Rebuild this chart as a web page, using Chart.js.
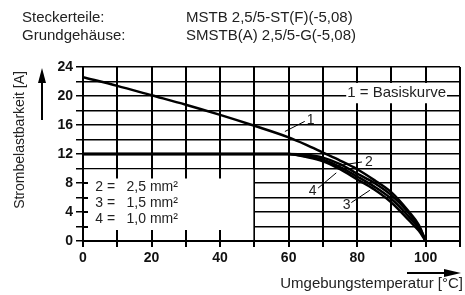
<!DOCTYPE html>
<html>
<head>
<meta charset="utf-8">
<script src="https://cdn.jsdelivr.net/npm/chart.js@4.4.1/dist/chart.umd.min.js"></script>
<style>
  body { margin: 0; background: #fff; }
</style>
</head>
<body>
<canvas id="chart" width="465" height="295"></canvas>
<script>
// temperature steps (°C)
const temps = [0, 10, 20, 30, 40, 50, 60, 65, 70, 75, 80, 85, 90, 95, 98, 100];
// 1 = Basiskurve
const curve1 = [22.6, 21.4, 20.1, 18.8, 17.4, 15.9, 14.3, 13.3, 12.2, 11.1, 9.9, 8.4, 6.7, 4.1, 2.2, 0];
// 2 = 2,5 mm², 3 = 1,5 mm², 4 = 1,0 mm²
const curve2 = [12, 12, 12, 12, 12, 12, 12, 11.9, 11.5, 10.6, 9.3, 8.0, 6.3, 3.9, 2.0, 0];
const curve3 = [12, 12, 12, 12, 12, 12, 12, 11.7, 11.2, 10.2, 8.9, 7.5, 5.8, 3.4, 1.7, 0];
const curve4 = [12, 12, 12, 12, 12, 12, 12, 11.6, 11.0, 9.9, 8.5, 7.1, 5.3, 2.9, 1.4, 0];

const xTickLabels = [0, 20, 40, 60, 80, 100];
const yTickLabels = [0, 4, 8, 12, 16, 20, 24];

const headerLeft = ['Steckerteile:', 'Grundgehäuse:'];
const headerRight = ['MSTB 2,5/5-ST(F)(-5,08)', 'SMSTB(A) 2,5/5-G(-5,08)'];
const legendNums = ['2 =', '3 =', '4 ='];
const legendSizes = ['2,5 mm²', '1,5 mm²', '1,0 mm²'];

// curve labels with leader lines, in data units
const curveLabels = [
    { text: '1', x: 66.4, y: 16.7, x0: 58.9, y0: 15.1, x1: 64.7, y1: 16.5 },
    { text: '2', x: 83.4, y: 10.9, x0: 74.4, y0: 10.4, x1: 81.4, y1: 10.9 },
    { text: '4', x: 67.0, y: 6.9, x0: 68.6, y0: 7.3, x1: 73.9, y1: 9.4 },
    { text: '3', x: 76.9, y: 5.0, x0: 78.3, y0: 5.3, x1: 83.7, y1: 7.0 }
];

const FONT = '"Liberation Sans", Arial, sans-serif';

function pts(ys) {
    return temps.map((t, i) => ({ x: t, y: ys[i] }));
}

const overlay = {
    id: 'overlay',
    beforeDatasetsDraw(chart) {
        const ctx = chart.ctx;
        const xs = chart.scales.x, ys = chart.scales.y;
        ctx.save();
        // blank box lower left
        const l = xs.getPixelForValue(0) + 1, r = xs.getPixelForValue(50) - 1;
        const t = ys.getPixelForValue(10) + 1, b = ys.getPixelForValue(0) - 1;
        ctx.fillStyle = '#fff';
        ctx.fillRect(l, t, r - l, b - t);
        // stubs inside the box
        ctx.strokeStyle = '#000';
        ctx.lineWidth = 2;
        ctx.beginPath();
        for (let v = 10; v < 50; v += 10) {
            const px = Math.round(xs.getPixelForValue(v));
            ctx.moveTo(px, ys.getPixelForValue(10));
            ctx.lineTo(px, ys.getPixelForValue(10) + 10);
            ctx.moveTo(px, ys.getPixelForValue(0));
            ctx.lineTo(px, ys.getPixelForValue(0) - 11);
        }
        for (let v = 2; v < 10; v += 2) {
            const py = Math.round(ys.getPixelForValue(v));
            ctx.moveTo(xs.getPixelForValue(0), py);
            ctx.lineTo(xs.getPixelForValue(0) + 5, py);
        }
        ctx.stroke();
        // white box behind "1 = Basiskurve"
        const bl = xs.getPixelForValue(76.8), br = xs.getPixelForValue(106.2);
        const bt = ys.getPixelForValue(21.8), bb = ys.getPixelForValue(19.0);
        ctx.fillRect(bl, bt, br - bl, bb - bt);
        ctx.fillStyle = '#222';
        ctx.font = '15px ' + FONT;
        ctx.textAlign = 'center';
        ctx.textBaseline = 'middle';
        ctx.fillText('1 = Basiskurve', xs.getPixelForValue(91.5), ys.getPixelForValue(20.5));
        // legend text
        ctx.font = '14px ' + FONT;
        ctx.textAlign = 'left';
        ctx.textBaseline = 'alphabetic';
        const rows = [6.94, 4.74, 2.48];
        rows.forEach((yv, i) => {
            ctx.fillText(legendNums[i], xs.getPixelForValue(3.6), ys.getPixelForValue(yv));
            ctx.fillText(legendSizes[i], xs.getPixelForValue(12.7), ys.getPixelForValue(yv));
        });
        ctx.restore();
    },
    afterDatasetsDraw(chart) {
        const ctx = chart.ctx;
        const xs = chart.scales.x, ys = chart.scales.y;
        ctx.save();
        ctx.strokeStyle = '#000';
        ctx.lineWidth = 1;
        ctx.fillStyle = '#222';
        ctx.font = '14px ' + FONT;
        ctx.textAlign = 'center';
        ctx.textBaseline = 'middle';
        curveLabels.forEach(c => {
            ctx.beginPath();
            ctx.moveTo(xs.getPixelForValue(c.x0), ys.getPixelForValue(c.y0));
            ctx.lineTo(xs.getPixelForValue(c.x1), ys.getPixelForValue(c.y1));
            ctx.stroke();
            ctx.fillText(c.text, xs.getPixelForValue(c.x), ys.getPixelForValue(c.y));
        });
        ctx.restore();
    },
    afterDraw(chart) {
        const ctx = chart.ctx;
        ctx.save();
        ctx.fillStyle = '#222';
        ctx.font = '15px ' + FONT;
        ctx.textBaseline = 'alphabetic';
        ctx.textAlign = 'left';
        [21.7, 40].forEach((y, i) => {
            ctx.fillText(headerLeft[i], 22, y);
            ctx.fillText(headerRight[i], 186, y);
        });
        // y title + arrow
        ctx.save();
        ctx.translate(20, 140);
        ctx.rotate(-Math.PI / 2);
        ctx.textAlign = 'center';
        ctx.textBaseline = 'middle';
        ctx.font = '14px ' + FONT;
        ctx.fillText('Strombelastbarkeit [A]', 0, 0);
        ctx.restore();
        ctx.strokeStyle = '#000';
        ctx.fillStyle = '#000';
        ctx.lineWidth = 2;
        ctx.beginPath();
        ctx.moveTo(42, 120); ctx.lineTo(42, 80);
        ctx.stroke();
        ctx.beginPath();
        ctx.moveTo(42, 68); ctx.lineTo(38, 83); ctx.lineTo(46, 83); ctx.closePath();
        ctx.fill();
        // x title + arrow
        ctx.beginPath();
        ctx.moveTo(407, 273); ctx.lineTo(446, 273);
        ctx.stroke();
        ctx.beginPath();
        ctx.moveTo(461, 273); ctx.lineTo(444, 269); ctx.lineTo(444, 277); ctx.closePath();
        ctx.fill();
        ctx.fillStyle = '#222';
        ctx.font = '15px ' + FONT;
        ctx.textAlign = 'right';
        ctx.fillText('Umgebungstemperatur [°C]', 463, 288);
        ctx.restore();
    }
};

const line = { borderColor: '#000', pointRadius: 0, fill: false, cubicInterpolationMode: 'monotone' };

new Chart(document.getElementById('chart'), {
    type: 'line',
    data: {
        datasets: [
            { ...line, label: '1', data: pts(curve1), borderWidth: 2.5 },
            { ...line, label: '2', data: pts(curve2), borderWidth: 2.5 },
            { ...line, label: '3', data: pts(curve3), borderWidth: 2.5 },
            { ...line, label: '4', data: pts(curve4), borderWidth: 2.5 }
        ]
    },
    options: {
        responsive: false,
        animation: false,
        layout: { padding: { top: 67, right: 5, left: 0, bottom: 0 } },
        plugins: { legend: { display: false }, tooltip: { enabled: false } },
        scales: {
            x: {
                type: 'linear',
                min: 0, max: 110,
                afterFit: s => { s.height = 54; },
                ticks: {
                    stepSize: 10, autoSkip: false, maxRotation: 0, padding: 3,
                    color: '#111', font: { family: FONT, size: 14, weight: 'bold' },
                    callback: v => xTickLabels.includes(v) ? v : ''
                },
                grid: { color: '#000', lineWidth: 2, tickLength: 6 },
                border: { color: '#000', width: 2 }
            },
            y: {
                min: 0, max: 24,
                afterFit: s => { s.width = 83; },
                ticks: {
                    stepSize: 2, autoSkip: false, padding: 3,
                    color: '#111', font: { family: FONT, size: 14, weight: 'bold' },
                    callback: v => yTickLabels.includes(v) ? v : ''
                },
                grid: { color: '#000', lineWidth: 1.5, tickLength: 7 },
                border: { color: '#000', width: 2 }
            }
        }
    },
    plugins: [overlay]
});
</script>
</body>
</html>
